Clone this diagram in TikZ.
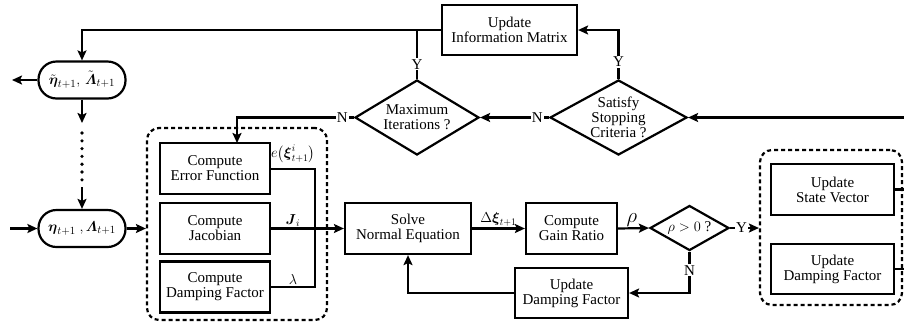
\documentclass[tikz,border=0pt]{standalone}
\usepackage{amsmath,amssymb}
\usepackage{fontspec}
\setmainfont{Liberation Serif}
\usetikzlibrary{positioning,arrows.meta,fit,shapes.geometric,calc}
\newcommand{\flowfont}{\fontsize{15}{15}\selectfont}
\tikzset{
  procbox/.style ={rectangle, draw=black, line width=2.2pt, fill=white, align=center,
                   inner sep=2pt, minimum width=110pt, minimum height=51pt, font=\flowfont},
  decision/.style={diamond, draw=black, line width=2.2pt, fill=white, inner sep=0pt},
  dtext/.style   ={align=center, inner sep=0pt, font=\flowfont},
  pill/.style    ={rectangle, rounded corners=18pt, draw=black, line width=2.2pt, fill=white,
                   minimum width=87pt, minimum height=37pt, inner sep=2pt, font=\flowfont},
  grpbox/.style  ={draw=black, line width=2.2pt, dash pattern=on 4pt off 3pt,
                   rounded corners=12pt, inner sep=0pt},
  arr/.style     ={-{Stealth[length=10pt,width=9pt,inset=2pt]}, line width=2.2pt},
  ln/.style      ={line width=2.2pt},
  yn/.style      ={fill=white, inner sep=1pt, font=\flowfont},
  elbl/.style    ={inner sep=1pt, font=\fontsize{14}{14}\selectfont},
}

\begin{document}
\begin{tikzpicture}[x=1pt, y=-1pt]
  \useasboundingbox (0,0) rectangle (904,325);

  \node[procbox, minimum width=135pt, minimum height=50pt] (infomat) at (509.5,30) {Update\\Information Matrix};
  \node[decision, minimum width=124pt, minimum height=75pt,
        label={[dtext]center:Maximum\\Iterations ?}] (maxit) at (417,117.5) {};
  \node[decision, minimum width=137pt, minimum height=75pt,
        label={[dtext]center:Satisfy\\Stopping\\Criteria ?}] (stopcrit) at (618.5,117.5) {};

  \node[pill] (esttilde) at (82,80) {$\tilde{\boldsymbol{\eta}}_{t+1},\, \tilde{\boldsymbol{\varLambda}}_{t+1}$};
  \node[pill] (est) at (82,228.5) {$\boldsymbol{\eta}_{t+1}\ , \boldsymbol{\varLambda}_{t+1}$};

  \node[procbox] (errfun) at (215,168.5) {Compute\\Error Function};
  \node[procbox] (jacob) at (215,228.5) {Compute\\Jacobian};
  \node[procbox] (dampc) at (215,287) {Compute\\Damping Factor};
  \node[grpbox, fit={(147,128) (327,320)}] (grpcomp) {};

  \node[procbox, minimum width=126pt] (solve) at (408,228.5) {Solve\\Normal Equation};
  \node[procbox, minimum width=91pt] (gain) at (571.5,228.5) {Compute\\Gain Ratio};
  \node[decision, minimum width=79pt, minimum height=45pt,
        label={[dtext]center:$\rho > 0$ ?}] (rhotest) at (689.5,228) {};
  \node[procbox, minimum width=113pt, minimum height=50pt] (dampu) at (571.5,293) {Update\\Damping Factor};

  \node[procbox, minimum width=123pt] (state) at (832.5,189.5) {Update\\State Vector};
  \node[procbox, minimum width=123pt, minimum height=50pt] (dampv) at (832.5,269) {Update\\Damping Factor};
  \node[grpbox, fit={(760,150) (902,305)}] (grpupd) {};

  \coordinate (topl) at (82,30);
  \coordinate (edge) at (904,117.5);
  \coordinate (bus) at (315,169);
  \coordinate (dotstop) at (82,123);
  \coordinate (dotsbot) at (82,187);
  \coordinate (exitw) at (12,80);
  \coordinate (entryw) at (10,228.5);

  \draw[arr] (infomat.west) -- (topl) -- (esttilde.north);
  \draw[ln] (maxit.north) -- node[yn, pos=0.3]{Y} (maxit.north |- topl);
  \draw[arr] (stopcrit.north) -- node[yn, pos=0.35]{Y} (stopcrit.north |- infomat) -- (infomat.east);
  \draw[arr] (edge) -- (stopcrit.east);
  \draw[arr] (stopcrit.west) -- node[yn, pos=0.17]{N} (maxit.east);
  \draw[arr] (maxit.west) -- node[yn, pos=0.1]{N} (237,117.5) -- (237,143);

  \draw[arr] (esttilde.west) -- (exitw);
  \draw[arr] (esttilde.south) -- (dotstop);
  \foreach \k in {0,...,6}
    \fill (82,133+\k*7.8) circle (1.8pt);
  \draw[arr] (dotsbot) -- (est.north);
  \draw[arr] (entryw) -- (est.west);
  \draw[arr] (est.east) -- (est.east -| grpcomp.west);

  \draw[ln] (errfun.east |- bus) -- node[elbl, above=4pt]{$e\big(\boldsymbol{\xi}^{i}_{t+1}\big)$} (bus) -- (bus |- dampc.east) -- node[elbl, above]{$\lambda$} (dampc.east);
  \draw[arr] (jacob.east) -- node[elbl, above, pos=0.3]{$\boldsymbol{J}_{i}$} (solve.west);
  \draw[arr] (solve.east) -- node[elbl, above]{$\Delta\boldsymbol{\xi}_{t+1}$} (gain.west);
  \draw[arr] (gain.east) -- node[above, pos=0.45, font=\fontsize{20}{20}\selectfont, inner sep=1pt]{$\rho$} (rhotest.west);
  \draw[arr] (rhotest.east) -- node[yn, pos=0.4]{Y} (rhotest.east -| grpupd.west);
  \draw[arr] (rhotest.south) -- node[yn, pos=0.45]{N} (rhotest.south |- dampu.east) -- (dampu.east);
  \draw[arr] (dampu.west) -- (solve.south |- dampu.west) -- (solve.south);

  \draw[ln] (state.east) -- (state.east -| edge);
  \draw[ln] (dampv.east) -- (dampv.east -| edge);
\end{tikzpicture}
\end{document}
